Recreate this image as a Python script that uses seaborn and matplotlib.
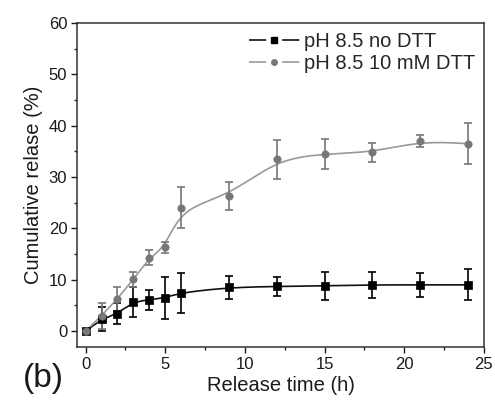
import numpy as np
import pandas as pd
import matplotlib
matplotlib.use("Agg")
import matplotlib.pyplot as plt
import seaborn as sns

time_h = [0, 1, 2, 3, 4, 5, 6, 9, 12, 15, 18, 21, 24]
no_dtt = [0, 2.3, 3.4, 5.7, 6.1, 6.5, 7.5, 8.5, 8.7, 8.8, 9.0, 9.0, 9.0]
no_dtt_err = [0.5, 2.3, 2.1, 2.9, 1.9, 4.1, 3.9, 2.3, 1.8, 2.8, 2.6, 2.3, 3.0]
dtt = [0, 3.0, 6.3, 10.1, 14.3, 16.3, 24.0, 26.3, 33.5, 34.5, 34.8, 37.0, 36.5]
dtt_err = [0.5, 2.5, 2.3, 1.5, 1.4, 1.0, 4.0, 2.8, 3.8, 2.9, 1.8, 1.2, 4.0]
labels = ["pH 8.5 no DTT", "pH 8.5 10 mM DTT"]


def bspline(x, y, n=40):
    # cubic B-spline with the data points as control points (Origin "B-Spline" line)
    px = np.r_[x[0], x[0], x, x[-1], x[-1]].astype(float)
    py = np.r_[y[0], y[0], y, y[-1], y[-1]].astype(float)
    t = np.linspace(0, 1, n)
    b0 = (1 - t) ** 3 / 6
    b1 = (3 * t**3 - 6 * t**2 + 4) / 6
    b2 = (-3 * t**3 + 3 * t**2 + 3 * t + 1) / 6
    b3 = t**3 / 6
    xs, ys = [], []
    for i in range(len(px) - 3):
        xs.append(b0 * px[i] + b1 * px[i + 1] + b2 * px[i + 2] + b3 * px[i + 3])
        ys.append(b0 * py[i] + b1 * py[i + 1] + b2 * py[i + 2] + b3 * py[i + 3])
    return np.concatenate(xs), np.concatenate(ys)


sns.set_style("ticks")
plt.rcParams["font.family"] = ["Liberation Sans", "DejaVu Sans"]

fig = plt.figure(figsize=(4.95, 4.05), dpi=100)
ax = fig.add_axes([0.1556, 0.1432, 0.822, 0.8])

series = [
    (no_dtt, no_dtt_err, "#000000", "#111111", "s", labels[0]),
    (dtt, dtt_err, "#777777", "#999999", "o", labels[1]),
]
for vals, err, mcol, lcol, mk, lab in series:
    xs, ys = bspline(time_h, vals)
    sns.lineplot(x=xs, y=ys, ax=ax, color=lcol, lw=1.2, sort=False)
    ax.errorbar(time_h, vals, yerr=err, fmt="none", ecolor=mcol, elinewidth=1.2,
                capsize=3, capthick=1.2)
    df = pd.DataFrame({"t": time_h, "v": vals})
    sns.scatterplot(data=df, x="t", y="v", ax=ax, marker=mk, color=mcol, s=28,
                    edgecolor=mcol, linewidth=0.5, zorder=5)
    # legend handle: line - marker - line with gaps, like the Origin legend
    ax.plot([], [], color=lcol, marker=mk, ms=4, mfc=mcol, mec=mcol, lw=1.2,
            ls=(0, (10.3, 9.6)), label=lab)

ax.set_xlim(-0.54, 25)
ax.set_ylim(-3.1, 60)
ax.set_xticks([0, 5, 10, 15, 20, 25])
ax.set_xticks(np.arange(2.5, 25, 5), minor=True)
ax.set_yticks(np.arange(0, 61, 10))
ax.set_yticks(np.arange(5, 60, 10), minor=True)
ax.tick_params(axis="both", which="major", direction="out", length=4, width=1,
               labelsize=12, colors="#1a1a1a", pad=3)
ax.tick_params(axis="both", which="minor", direction="out", length=2.5, width=1)
for s in ax.spines.values():
    s.set_linewidth(1.1)
    s.set_color("#333333")
ax.set_xlabel("Release time (h)", fontsize=14.5, color="#1a1a1a", labelpad=3)
ax.set_ylabel("Cumulative relase (%)", fontsize=14.5, color="#1a1a1a", labelpad=4)
ax.legend(loc="upper right", frameon=False, fontsize=14.5, handlelength=2.5,
          handletextpad=0.2, borderaxespad=0.15, labelspacing=0.15, borderpad=0.3)
fig.text(0.046, 0.045, "(b)", fontsize=24, color="#1a1a1a")

fig.savefig("out.png", dpi=100)
